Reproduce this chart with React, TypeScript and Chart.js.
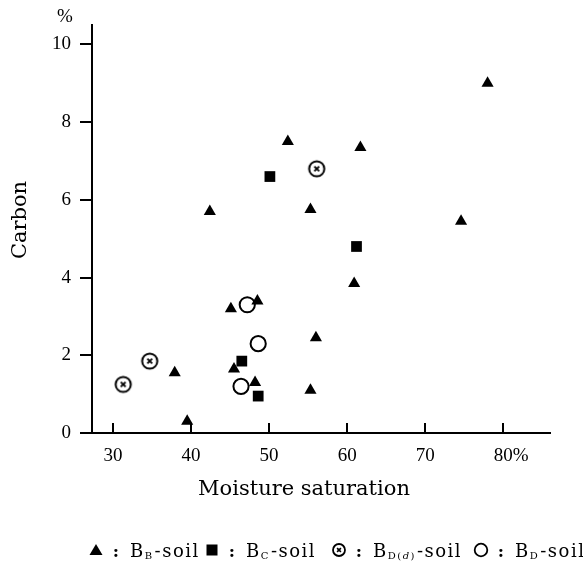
import React, { useEffect, useRef } from "react";
import { Chart, registerables } from "chart.js";

Chart.register(...registerables);

// ---- Data ----
const bbX = [78, 52.4, 61.7, 42.4, 55.3, 74.6, 60.9, 45.1, 48.5, 56, 37.9, 45.5, 48.2, 55.3, 39.5];
const bbY = [9.0, 7.5, 7.35, 5.7, 5.75, 5.45, 3.85, 3.2, 3.4, 2.45, 1.55, 1.65, 1.3, 1.1, 0.3];

const bcX = [50.1, 61.2, 46.5, 48.6];
const bcY = [6.6, 4.8, 1.85, 0.95];

const bddX = [56.1, 34.7, 31.3];
const bddY = [6.8, 1.85, 1.25];

const bdX = [47.2, 48.6, 46.4];
const bdY = [3.3, 2.3, 1.2];

const xTicks = [30, 40, 50, 60, 70, 80];
const yTicks = [0, 2, 4, 6, 8, 10];
const xTitle = "Moisture saturation";
const yTitle = "Carbon";
const unitLabel = "%";

const legendMarkers = ["triangle", "rect", "circx", "circle"];
const legendMain = ["B", "B", "B", "B"];
const legendSub = ["B", "C", "D(d)", "D"];
const legendSuffix = "-soil";

const TEXT_FONT = '"DejaVu Serif", serif';
const NUM_FONT = '"Liberation Serif", serif';
const NUM_SIZE = 19;

function drawCircledX(ctx: CanvasRenderingContext2D, x: number, y: number, r: number, lw: number) {
  ctx.save();
  ctx.strokeStyle = "#000";
  ctx.lineWidth = lw;
  ctx.beginPath();
  ctx.arc(x, y, r, 0, Math.PI * 2);
  ctx.stroke();
  const c = r * 0.32;
  ctx.lineWidth = lw * 0.9;
  ctx.beginPath();
  ctx.moveTo(x - c, y - c);
  ctx.lineTo(x + c, y + c);
  ctx.moveTo(x + c, y - c);
  ctx.lineTo(x - c, y + c);
  ctx.stroke();
  ctx.restore();
}

function makeCircledXCanvas(): HTMLCanvasElement {
  const c = document.createElement("canvas");
  c.width = 22;
  c.height = 22;
  const ctx = c.getContext("2d")!;
  drawCircledX(ctx, 11, 11, 7.6, 2);
  return c;
}

function toPts(xs: number[], ys: number[]) {
  return xs.map((x, i) => ({ x, y: ys[i] }));
}

const decorPlugin = {
  id: "decor",
  afterDraw(chart: any) {
    const ctx: CanvasRenderingContext2D = chart.ctx;
    const xs = chart.scales.x;
    const ys = chart.scales.y;
    const area = chart.chartArea;
    ctx.save();
    ctx.fillStyle = "#000";
    ctx.strokeStyle = "#000";

    // inward x ticks
    ctx.lineWidth = 2;
    for (const v of xTicks) {
      const px = Math.round(xs.getPixelForValue(v));
      ctx.beginPath();
      ctx.moveTo(px, area.bottom);
      ctx.lineTo(px, area.bottom - 10);
      ctx.stroke();
    }

    // % units
    ctx.font = `${NUM_SIZE}px ${NUM_FONT}`;
    ctx.textBaseline = "middle";
    ctx.textAlign = "center";
    ctx.fillText(unitLabel, 65, ys.getPixelForValue(yTicks[yTicks.length - 1]) - 27);
    ctx.textAlign = "left";
    const lastX = xs.getPixelForValue(xTicks[xTicks.length - 1]);
    const lastW = ctx.measureText(String(xTicks[xTicks.length - 1])).width;
    ctx.fillText(unitLabel, lastX + lastW / 2, area.bottom + 12 + (NUM_SIZE * 1.2) / 2);

    // axis titles
    ctx.font = `21px ${TEXT_FONT}`;
    ctx.textAlign = "center";
    ctx.textBaseline = "alphabetic";
    ctx.fillText(xTitle, 304, 495);
    ctx.save();
    ctx.translate(26, 220);
    ctx.rotate(-Math.PI / 2);
    ctx.fillText(yTitle, 0, 0);
    ctx.restore();

    // legend
    const centers = [96, 212, 339, 481];
    const my = 550;
    const base = 557;
    legendMarkers.forEach((m, i) => {
      const cx = centers[i];
      ctx.fillStyle = "#000";
      ctx.strokeStyle = "#000";
      if (m === "triangle") {
        ctx.beginPath();
        ctx.moveTo(cx, my - 6);
        ctx.lineTo(cx + 6.5, my + 5);
        ctx.lineTo(cx - 6.5, my + 5);
        ctx.closePath();
        ctx.fill();
      } else if (m === "rect") {
        ctx.fillRect(cx - 5.5, my - 5.5, 11, 11);
      } else if (m === "circx") {
        drawCircledX(ctx, cx, my, 6, 1.8);
      } else {
        ctx.lineWidth = 1.8;
        ctx.beginPath();
        ctx.arc(cx, my, 6.3, 0, Math.PI * 2);
        ctx.stroke();
      }
      ctx.font = `bold 17px ${TEXT_FONT}`;
      ctx.textAlign = "center";
      ctx.textBaseline = "alphabetic";
      ctx.fillText(":", cx + 20, base);
      ctx.textAlign = "left";
      let tx = cx + 34;
      (ctx as any).letterSpacing = "1.5px";
      ctx.font = `18px ${TEXT_FONT}`;
      ctx.fillText(legendMain[i], tx, base);
      tx += ctx.measureText(legendMain[i]).width;
      const sub = legendSub[i];
      const m2 = sub.match(/^(.*)\((.)\)$/);
      ctx.font = `10px ${TEXT_FONT}`;
      if (m2) {
        const a = m2[1] + "(";
        ctx.fillText(a, tx, base + 2);
        tx += ctx.measureText(a).width;
        ctx.font = `italic 10px ${TEXT_FONT}`;
        ctx.fillText(m2[2], tx, base + 2);
        tx += ctx.measureText(m2[2]).width;
        ctx.font = `10px ${TEXT_FONT}`;
        ctx.fillText(")", tx, base + 2);
        tx += ctx.measureText(")").width;
      } else {
        ctx.fillText(sub, tx, base + 2);
        tx += ctx.measureText(sub).width;
      }
      tx += 1;
      ctx.font = `18px ${TEXT_FONT}`;
      ctx.fillText(legendSuffix, tx, base);
      (ctx as any).letterSpacing = "0px";
    });
    ctx.restore();
  },
};

export default function App() {
  const ref = useRef<HTMLCanvasElement>(null);
  useEffect(() => {
    if (!ref.current) return;
    const cx = makeCircledXCanvas();
    const chart = new Chart(ref.current, {
      type: "scatter",
      data: {
        datasets: [
          {
            label: "BB",
            data: toPts(bbX, bbY),
            pointStyle: "triangle",
            pointRadius: 7,
            backgroundColor: "#000",
            borderColor: "#000",
            borderWidth: 0,
          },
          {
            label: "BC",
            data: toPts(bcX, bcY),
            pointStyle: "rect",
            pointRadius: 7.6,
            backgroundColor: "#000",
            borderColor: "#000",
            borderWidth: 0,
          },
          {
            label: "BDd",
            data: toPts(bddX, bddY),
            pointStyle: cx as any,
            pointRadius: 8,
            backgroundColor: "#000",
            borderColor: "#000",
          },
          {
            label: "BD",
            data: toPts(bdX, bdY),
            pointStyle: "circle",
            pointRadius: 7.6,
            backgroundColor: "rgba(0,0,0,0)",
            borderColor: "#000",
            borderWidth: 2,
          },
        ],
      },
      options: {
        responsive: false,
        animation: false,
        devicePixelRatio: 1,
        layout: { padding: { left: 0, right: 33, top: 25, bottom: 0 } },
        plugins: { legend: { display: false }, tooltip: { enabled: false } },
        scales: {
          x: {
            type: "linear",
            min: 27.3,
            max: 86,
            afterBuildTicks: (s: any) => {
              s.ticks = xTicks.map((v) => ({ value: v }));
            },
            afterFit: (s: any) => {
              s.height = 132;
            },
            grid: { display: true, drawOnChartArea: false, drawTicks: false },
            border: { display: true, color: "#000", width: 2 },
            ticks: {
              padding: 12,
              color: "#000",
              font: { family: NUM_FONT, size: NUM_SIZE },
              maxRotation: 0,
              callback: (v: any) => String(v),
            },
          },
          y: {
            type: "linear",
            min: 0,
            max: 10.5,
            afterBuildTicks: (s: any) => {
              s.ticks = yTicks.map((v) => ({ value: v }));
            },
            afterFit: (s: any) => {
              s.width = 92;
            },
            grid: {
              display: true,
              drawOnChartArea: false,
              drawTicks: true,
              tickLength: 12,
              color: "#000",
              lineWidth: 2,
            },
            border: { display: true, color: "#000", width: 2 },
            ticks: {
              padding: 9,
              color: "#000",
              font: { family: NUM_FONT, size: NUM_SIZE },
              callback: (v: any) => String(v),
            },
          },
        },
      },
      plugins: [decorPlugin],
    });
    return () => chart.destroy();
  }, []);
  return (
    <div style={{ position: "absolute", left: 0, top: 0, width: 583, height: 565, background: "#fff" }}>
      <canvas ref={ref} width={583} height={565} style={{ display: "block", width: 583, height: 565 }} />
    </div>
  );
}
